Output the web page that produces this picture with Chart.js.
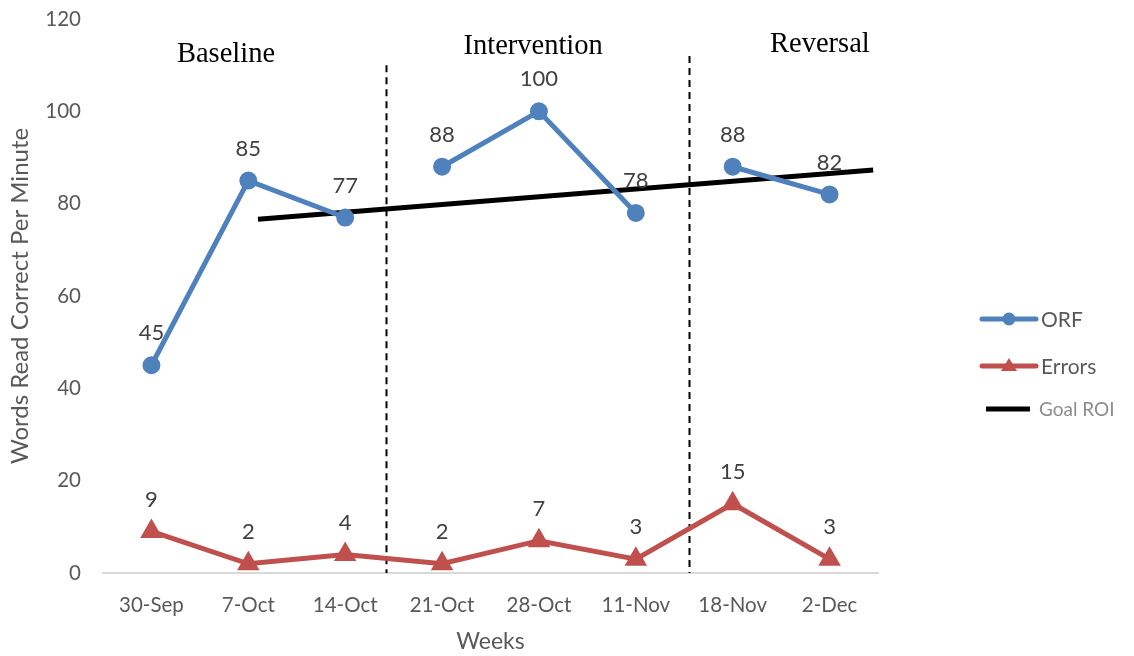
<!DOCTYPE html>
<html>
<head>
<meta charset="utf-8">
<script src="https://cdn.jsdelivr.net/npm/chart.js@4"></script>
<style>
  html, body { margin: 0; padding: 0; background: #fff; }
  #wrap { width: 1134px; height: 656px; position: relative; }
</style>
</head>
<body>
<div id="wrap"><canvas id="ctx"></canvas></div>
<script>
const weeks = ['30-Sep', '7-Oct', '14-Oct', '21-Oct', '28-Oct', '11-Nov', '18-Nov', '2-Dec'];
const orf = [45, 85, 77, 88, 100, 78, 88, 82];
const errors = [9, 2, 4, 2, 7, 3, 15, 3];
// goal line end points, x in week-index units
const goalX = [1.1, 7.45];
const goalY = [76.6, 87.3];
// phase changes (week-index units) and names
const phaseBreaks = [2.42, 5.55];
const phaseTop = [110, 112];
const phaseNames = ['Baseline', 'Intervention', 'Reversal'];
const phaseNameX = [0.77, 3.94, 6.9];
const phaseNameY = [112.4, 114, 114.4];
// no line drawn after these indices for ORF
const orfBreakAfter = [2, 5];

const blue = '#4f81bd';
const red = '#c0504d';
const txt = '#595959';
const font = 'Lato';

const phasePlugin = {
    id: 'phases',
    beforeDatasetsDraw(chart) {
        const c = chart.ctx;
        const xs = chart.scales.xg, ys = chart.scales.y;
        c.save();
        c.strokeStyle = '#000';
        c.lineWidth = 2;
        c.setLineDash([7, 5]);
        phaseBreaks.forEach((b, i) => {
            const px = Math.round(xs.getPixelForValue(b)) + 0.5;
            c.beginPath();
            c.moveTo(px, ys.getPixelForValue(phaseTop[i]));
            c.lineTo(px, ys.getPixelForValue(0));
            c.stroke();
        });
        c.setLineDash([]);
        c.fillStyle = '#000';
        c.font = '28.5px "Liberation Serif"';
        c.textAlign = 'center';
        c.textBaseline = 'middle';
        phaseNames.forEach((n, i) => {
            c.fillText(n, xs.getPixelForValue(phaseNameX[i]), ys.getPixelForValue(phaseNameY[i]));
        });
        c.restore();
    },
    afterDatasetsDraw(chart) {
        const c = chart.ctx;
        c.save();
        c.fillStyle = '#404040';
        c.font = '22px ' + font;
        c.textAlign = 'center';
        c.textBaseline = 'middle';
        [0, 1].forEach(di => {
            const meta = chart.getDatasetMeta(di);
            meta.data.forEach((pt, i) => {
                c.fillText(chart.data.datasets[di].data[i], pt.x, pt.y - 32);
            });
        });
        // legend
        const rows = [
            {label: 'ORF', color: blue, y: 319, marker: 'circle', x0: 982, x1: 1036, tx: 1041, tc: txt, fs: 21},
            {label: 'Errors', color: red, y: 366, marker: 'triangle', x0: 982, x1: 1036, tx: 1041, tc: txt, fs: 21},
            {label: 'Goal ROI', color: '#000', y: 409, marker: null, x0: 986, x1: 1030, tx: 1039, tc: '#8c8c8c', fs: 19}
        ];
        rows.forEach(r => {
            c.strokeStyle = r.color;
            c.lineWidth = 5;
            c.lineCap = r.marker ? 'round' : 'butt';
            c.beginPath();
            c.moveTo(r.x0, r.y);
            c.lineTo(r.x1, r.y);
            c.stroke();
            c.fillStyle = r.color;
            const mx = (r.x0 + r.x1) / 2;
            if (r.marker === 'circle') {
                c.beginPath();
                c.arc(mx, r.y, 6.5, 0, Math.PI * 2);
                c.fill();
            } else if (r.marker === 'triangle') {
                c.beginPath();
                c.moveTo(mx, r.y - 8);
                c.lineTo(mx + 8, r.y + 5);
                c.lineTo(mx - 8, r.y + 5);
                c.closePath();
                c.fill();
            }
            c.fillStyle = r.tc;
            c.font = r.fs + 'px ' + font;
            c.textAlign = 'left';
            c.fillText(r.label, r.tx, r.y + 1);
        });
        c.restore();
    }
};

new Chart(document.getElementById('ctx'), {
    type: 'line',
    data: {
        labels: weeks,
        datasets: [{
            label: 'ORF',
            data: orf,
            borderColor: blue,
            backgroundColor: blue,
            borderWidth: 5,
            pointRadius: 6.5,
            pointHoverRadius: 6.5,
            pointStyle: 'circle',
            segment: {
                borderColor: ctx => orfBreakAfter.includes(ctx.p0DataIndex) ? 'rgba(0,0,0,0)' : blue
            }
        }, {
            label: 'Errors',
            data: errors,
            borderColor: red,
            backgroundColor: red,
            borderWidth: 5,
            pointRadius: 8,
            pointHoverRadius: 8,
            pointStyle: 'triangle'
        }, {
            label: 'Goal ROI',
            data: goalX.map((x, i) => ({x: x, y: goalY[i]})),
            xAxisID: 'xg',
            borderColor: '#000',
            borderWidth: 5,
            pointRadius: 0,
            borderCapStyle: 'butt'
        }]
    },
    options: {
        responsive: true,
        maintainAspectRatio: false,
        animation: false,
        layout: {padding: {left: 0, right: 256, top: 19, bottom: 0}},
        plugins: {legend: {display: false}, tooltip: {enabled: false}},
        scales: {
            x: {
                offset: true,
                grid: {display: false, drawTicks: false},
                border: {display: true, color: '#d9d9d9', width: 2},
                ticks: {color: txt, font: {family: font, size: 20.5}, padding: 20},
                title: {display: true, text: 'Weeks', color: txt, font: {family: font, size: 23}, padding: {top: 4, bottom: 1}},
                afterFit: s => { s.height = 83; }
            },
            xg: {
                type: 'linear',
                display: false,
                min: -0.5,
                max: 7.5
            },
            y: {
                min: 0,
                max: 120,
                ticks: {stepSize: 20, color: txt, font: {family: font, size: 20.5}, padding: 22},
                grid: {display: false, drawTicks: false},
                border: {display: false},
                title: {display: true, text: 'Words Read Correct Per Minute', color: txt, font: {family: font, size: 24}, padding: 6},
                afterFit: s => { s.width = 103; s.paddingTop = 0; s.paddingBottom = 0; }
            }
        }
    },
    plugins: [phasePlugin]
});
</script>
</body>
</html>
